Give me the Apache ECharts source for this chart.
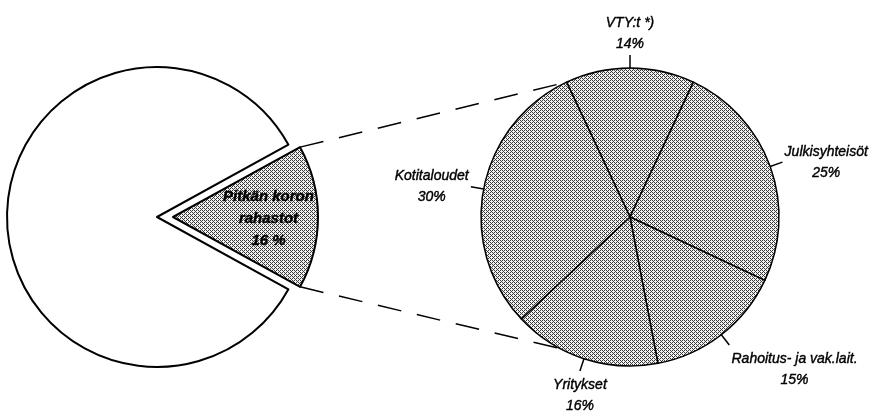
<!DOCTYPE html>
<html>
<head>
<meta charset="utf-8">
<script src="https://cdn.jsdelivr.net/npm/echarts@6/dist/echarts.min.js"></script>
<style>
  html, body { margin: 0; padding: 0; background: #fff; }
  #chart { width: 870px; height: 412px; }
</style>
</head>
<body>
<div id="chart"></div>
<script>
// vasen piirakka: rahastot
const fundNames = ['Pitkän koron\nrahastot', 'Muut rahastot'];
const fundValues = [16, 84];
// oikea piirakka: pitkän koron rahastojen omistajat
const ownerNames = ['VTY:t *)', 'Julkisyhteisöt', 'Rahoitus- ja vak.lait.', 'Yritykset', 'Kotitaloudet'];
const ownerValues = [14, 25, 15, 16, 30];

// sijoittelu (px)
const leftC = [157, 217], leftR = 150;
const sliceC = [173, 217], sliceR = 145;
const rightC = [630, 217], rightR = 149;
const lowerLinkAngle = -118;

const fundTotal = fundValues.reduce((a, b) => a + b, 0);
const ownerTotal = ownerValues.reduce((a, b) => a + b, 0);
const half = fundValues[0] / fundTotal * 180;
const rightStart = 90 + ownerValues[0] / ownerTotal * 180;

// rasterikuvio harmaille sektoreille (ordered dither)
function halftone() {
  const c = document.createElement('canvas');
  c.width = 4; c.height = 4;
  const g = c.getContext('2d');
  g.fillStyle = '#f2f2f2';
  g.fillRect(0, 0, 4, 4);
  g.fillStyle = '#3a3a3a';
  [[0, 0], [2, 0], [1, 1], [0, 2], [2, 2], [3, 3]].forEach(p => g.fillRect(p[0], p[1], 1, 1));
  return c;
}
const gray = { image: halftone(), repeat: 'repeat' };

const font = {
  fontFamily: 'Liberation Sans, Arial, sans-serif', fontStyle: 'italic', color: '#000',
  textBorderColor: '#000', textBorderWidth: 0.4
};

function polar(c, r, deg) {
  const a = deg * Math.PI / 180;
  return [c[0] + r * Math.cos(a), c[1] - r * Math.sin(a)];
}
const up0 = polar(sliceC, sliceR, half), up1 = polar(rightC, rightR, rightStart);
const lo0 = polar(sliceC, sliceR, -half), lo1 = polar(rightC, rightR, lowerLinkAngle);
const linkStyle = { stroke: '#000', lineWidth: 1.5, lineDash: [24, 16] };

const chart = echarts.init(document.getElementById('chart'));
chart.setOption({
  animation: false,
  graphic: [
    { type: 'line', shape: { x1: up0[0], y1: up0[1], x2: up1[0], y2: up1[1] }, style: linkStyle, silent: true },
    { type: 'line', shape: { x1: lo0[0], y1: lo0[1], x2: lo1[0], y2: lo1[1] }, style: linkStyle, silent: true }
  ],
  series: [
    {
      // valkoinen piirakka, josta osa irrotettu
      type: 'pie', silent: true, center: leftC, radius: leftR,
      startAngle: half, clockwise: true, avoidLabelOverlap: false,
      label: { show: false }, labelLine: { show: false },
      data: fundNames.map((n, i) => ({
        name: n, value: fundValues[i],
        itemStyle: i === 0
          ? { color: 'rgba(0,0,0,0)', borderWidth: 0 }
          : { color: '#fff', borderColor: '#000', borderWidth: 2 }
      }))
    },
    {
      // irrotettu sektori
      type: 'pie', silent: true, center: sliceC, radius: sliceR,
      startAngle: half, clockwise: true, avoidLabelOverlap: false,
      labelLine: { show: false },
      labelLayout: { dx: 20, dy: 2 },
      data: fundNames.map((n, i) => ({
        name: n, value: fundValues[i],
        itemStyle: i === 0
          ? { color: gray, borderColor: '#000', borderWidth: 2 }
          : { color: 'rgba(0,0,0,0)', borderWidth: 0 },
        label: i === 0
          ? Object.assign({}, font, { show: true, position: 'inside', formatter: '{b}\n{c} %', fontSize: 15, fontWeight: 'bold', lineHeight: 22, align: 'center' })
          : { show: false }
      }))
    },
    {
      type: 'pie', silent: true, center: rightC, radius: rightR,
      startAngle: rightStart, clockwise: true, avoidLabelOverlap: false,
      itemStyle: { color: gray, borderColor: '#000', borderWidth: 1.5 },
      label: Object.assign({ show: true, position: 'outside', formatter: '{b}\n{c}%', fontSize: 14, lineHeight: 21, align: 'center' }, font),
      labelLine: { show: true, length: 13, length2: 0, lineStyle: { color: '#000', width: 1.5 } },
      labelLayout: function (p) {
        const pts = p.labelLinePoints;
        if (!pts) return {};
        const a = pts[0], e = pts[pts.length - 1];
        let ux = e[0] - a[0], uy = e[1] - a[1];
        const len = Math.hypot(ux, uy) || 1;
        ux /= len; uy /= len;
        const w = p.labelRect.width, h = p.labelRect.height;
        let x = e[0], y = e[1];
        if (Math.abs(ux) >= 0.4) x += Math.sign(ux) * (w / 2 + 2);
        if (Math.abs(uy) >= 0.5) y += uy < 0 ? -(h / 2) : (h / 2 + 4);
        return { x: x, y: y, align: 'center', verticalAlign: 'middle', labelLinePoints: pts.map(q => q.slice()) };
      },
      data: ownerNames.map((n, i) => ({ name: n, value: ownerValues[i] }))
    }
  ]
});
</script>
</body>
</html>
